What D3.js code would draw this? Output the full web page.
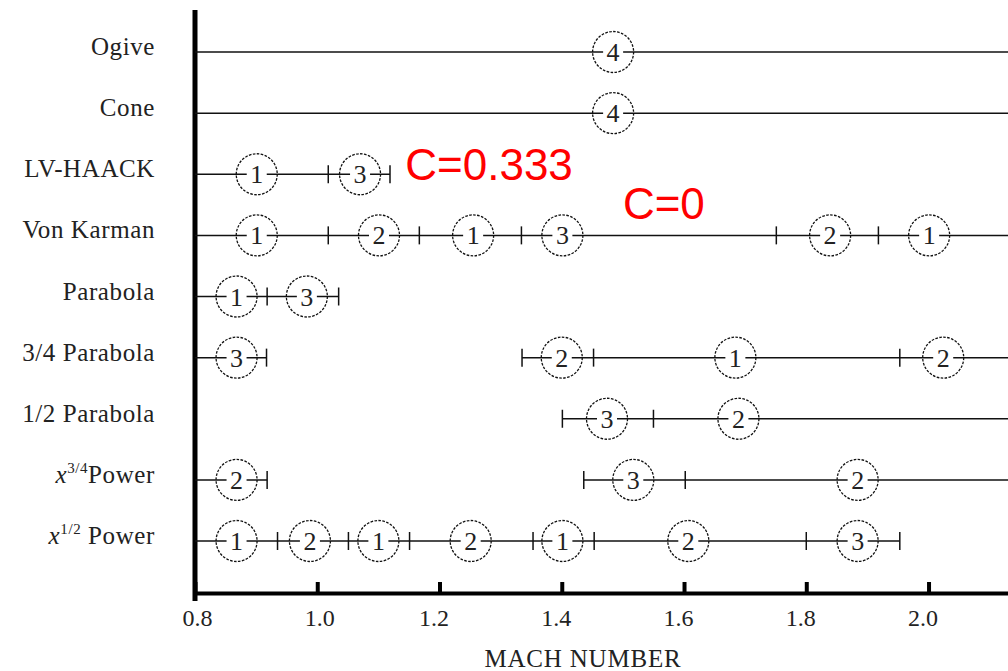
<!DOCTYPE html>
<html>
<head>
<meta charset="utf-8">
<script src="https://cdn.jsdelivr.net/npm/d3@7"></script>
<style>
  body { margin: 0; background: #fff; }
  svg { display: block; }
</style>
</head>
<body>
<div id="chart"></div>
<script>
// nose shapes, top to bottom
const shapes = ["Ogive", "Cone", "LV-HAACK", "Von Karman", "Parabola",
                "3/4 Parabola", "1/2 Parabola", "x3/4", "x1/2"];
const shapeLabels = [
  { base: "Ogive" }, { base: "Cone" }, { base: "LV-HAACK" }, { base: "Von Karman" },
  { base: "Parabola" }, { base: "3/4 Parabola" }, { base: "1/2 Parabola" },
  { x: "x", sup: "3/4", base: "Power" }, { x: "x", sup: "1/2", base: " Power" }
];

// 2.13 = line runs off the right edge
const segments = [
  [[0.8, 2.13]],
  [[0.8, 2.13]],
  [[0.8, 1.119]],
  [[0.8, 2.13]],
  [[0.8, 1.035]],
  [[0.8, 0.917], [1.335, 2.13]],
  [[1.401, 2.13]],
  [[0.8, 0.918], [1.436, 2.13]],
  [[0.8, 1.953]]
];

// region boundaries on each row
const bounds = [
  [],
  [],
  [1.018, 1.119],
  [1.018, 1.167, 1.334, 1.751, 1.918],
  [0.918, 1.035],
  [0.917, 1.335, 1.452, 1.953],
  [1.401, 1.550],
  [0.918, 1.436, 1.602],
  [0.935, 1.051, 1.151, 1.353, 1.453, 1.800, 1.953]
];

// ranking circles: mach position and rank
const rankMach = [
  [1.484],
  [1.484],
  [0.901, 1.070],
  [0.901, 1.101, 1.255, 1.401, 1.839, 2.001],
  [0.868, 0.983],
  [0.868, 1.400, 1.684, 2.024],
  [1.474, 1.689],
  [0.868, 1.517, 1.884],
  [0.868, 0.988, 1.100, 1.251, 1.401, 1.607, 1.884]
];
const rankNum = [
  [4],
  [4],
  [1, 3],
  [1, 2, 1, 3, 2, 1],
  [1, 3],
  [3, 2, 1, 2],
  [3, 2],
  [2, 3, 2],
  [1, 2, 1, 2, 1, 2, 3]
];

const machTicks = [0.8, 1.0, 1.2, 1.4, 1.6, 1.8, 2.0];
const notes = [
  { text: "C=0.333", mach: 1.144, row: "LV-HAACK", dy: 6 },
  { text: "C=0", mach: 1.500, row: "LV-HAACK", dy: 45 }
];

const W = 1008, H = 671;
const serif = "'Liberation Serif', 'Times New Roman', serif";

const svg = d3.select("#chart").append("svg")
  .attr("width", W)
  .attr("height", H);

const x = d3.scaleLinear().domain([0.8, 2.13]).range([195, 1008]);
const y = d3.scalePoint().domain(shapes).range([52, 541]);

const rowData = shapes.map((s, i) => ({
  key: s,
  label: shapeLabels[i],
  segs: segments[i],
  bounds: bounds[i],
  circles: rankMach[i].map((m, j) => ({ mach: m, num: rankNum[i][j] }))
}));

// x axis
const xAxis = svg.append("g")
  .attr("transform", "translate(0,593)")
  .call(d3.axisBottom(x)
    .tickValues(machTicks)
    .tickFormat(d3.format(".1f"))
    .tickSizeInner(-11)
    .tickSizeOuter(0)
    .tickPadding(16));
xAxis.select(".domain").attr("stroke", "#000").attr("stroke-width", 4);
xAxis.selectAll(".tick line").attr("stroke", "#000").attr("stroke-width", 4);
xAxis.selectAll(".tick text")
  .attr("fill", "#222")
  .attr("dx", d => d < 1.1 ? 2 : -6)
  .style("font-family", serif)
  .style("font-size", "24px");

svg.append("text")
  .attr("x", 583)
  .attr("y", 667)
  .attr("text-anchor", "middle")
  .attr("fill", "#222")
  .style("font-family", serif)
  .style("font-size", "25px")
  .style("letter-spacing", "0.8px")
  .text("MACH NUMBER");

// y axis line
svg.append("line")
  .attr("x1", x(0.8)).attr("x2", x(0.8))
  .attr("y1", 10).attr("y2", 601)
  .attr("stroke", "#000")
  .attr("stroke-width", 5);

const rows = svg.selectAll("g.row")
  .data(rowData)
  .join("g")
  .attr("class", "row")
  .attr("transform", d => `translate(0,${y(d.key)})`);

// row labels
const lab = rows.append("text")
  .attr("x", 155)
  .attr("y", 3)
  .attr("text-anchor", "end")
  .attr("fill", "#222")
  .style("font-family", serif)
  .style("font-size", "25px")
  .style("letter-spacing", "0.6px");
lab.each(function(d) {
  const t = d3.select(this);
  if (d.label.x) {
    t.append("tspan").style("font-style", "italic").text(d.label.x);
    t.append("tspan").attr("dy", -10).style("font-size", "15px").text(d.label.sup);
    t.append("tspan").attr("dy", 10).text(d.label.base);
  } else {
    t.text(d.label.base);
  }
});

rows.selectAll("line.seg")
  .data(d => d.segs)
  .join("line")
  .attr("class", "seg")
  .attr("x1", d => x(d[0]))
  .attr("x2", d => x(d[1]))
  .attr("stroke", "#111")
  .attr("stroke-width", 1.5);

rows.selectAll("line.bound")
  .data(d => d.bounds)
  .join("line")
  .attr("class", "bound")
  .attr("x1", d => x(d)).attr("x2", d => x(d))
  .attr("y1", -9).attr("y2", 9)
  .attr("stroke", "#111")
  .attr("stroke-width", 1.5);

const rank = rows.selectAll("g.rank")
  .data(d => d.circles)
  .join("g")
  .attr("class", "rank")
  .attr("transform", d => `translate(${x(d.mach)},0)`);

rank.append("circle")
  .attr("r", 20.5)
  .attr("fill", "none")
  .attr("stroke", "#111")
  .attr("stroke-width", 1.3)
  .attr("stroke-dasharray", "2.6,1.4");

rank.append("rect")
  .attr("x", -10).attr("y", -12)
  .attr("width", 20).attr("height", 24)
  .attr("fill", "#fff");

rank.append("text")
  .attr("y", 9)
  .attr("text-anchor", "middle")
  .attr("fill", "#222")
  .style("font-family", serif)
  .style("font-size", "26px")
  .text(d => d.num);

// red annotations
svg.selectAll("text.note")
  .data(notes)
  .join("text")
  .attr("class", "note")
  .attr("x", d => x(d.mach))
  .attr("y", d => y(d.row) + d.dy)
  .attr("fill", "#ff0000")
  .style("font-family", "'Liberation Sans', Arial, sans-serif")
  .style("font-size", "44px")
  .text(d => d.text);
</script>
</body>
</html>
